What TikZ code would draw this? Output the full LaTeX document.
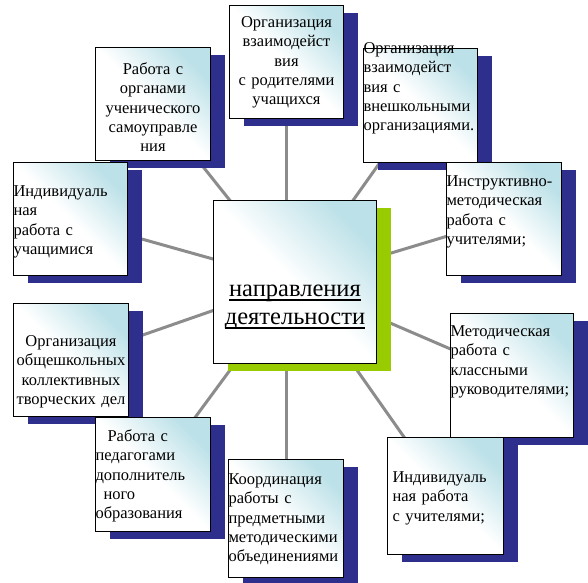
\documentclass[tikz,border=0pt]{standalone}
\usepackage{fontspec}
\setmainfont{Liberation Serif}
\usetikzlibrary{shadows,backgrounds}
\hyphenpenalty=10000
\exhyphenpenalty=10000

\definecolor{cardcyan}{HTML}{BCE1E8}
\definecolor{cardnavy}{HTML}{2E2E8C}
\definecolor{hubgreen}{HTML}{99CC00}
\definecolor{spokegray}{HTML}{8C8C8C}

\newcommand{\hubul}[1]{\leavevmode\setbox0\hbox{#1}\rlap{\rule[-4pt]{\wd0}{1.1pt}}\box0}

\begin{document}
\begin{tikzpicture}[x=1pt, y=-1pt,
    spoke/.style={line width=3pt, spokegray},
    card/.style={draw=black, line width=1pt, anchor=north west,
                 top color=cardcyan, bottom color=white, middle color=white,
                 shading angle=-45, inner sep=0pt,
                 font=\fontsize{16.5}{19.3}\selectfont,
                 drop shadow={shadow xshift=14pt, shadow yshift=-7pt,
                              fill=cardnavy, opacity=1}},
    hubbox/.style={card, align=center, text width=163pt,
                   minimum width=163pt, minimum height=163pt,
                   font=\fontsize{24.5}{28}\selectfont,
                   drop shadow={shadow xshift=14pt, shadow yshift=-7pt,
                                fill=hubgreen, opacity=1}},
]

\useasboundingbox (0,0) rectangle (588,582);

% Hub
\node[hubbox, text height=96pt, text depth=67pt] (hub) at (213,200)
    {\hubul{направления}\\ \hubul{деятельности}};

% Top row
\node[card, align=center, text width=114pt, minimum height=113pt,
      text height=22pt, text depth=91pt] (parents) at (229,5)
    {Организация\\ взаимодейст\\ вия\\ с родителями\\ учащихся};
\node[card, align=center, text width=115pt, minimum height=113pt,
      text height=27pt, text depth=86pt] (selfgov) at (95,47)
    {Работа с\\ органами\\ ученического\\ самоуправле\\ ния};
\node[card, align=left, text width=114pt, minimum height=114pt,
      text height=5pt, text depth=109pt] (outschool) at (363,48)
    {Организация\\ взаимодейст\\ вия с\\ внешкольными\\ организациями.};

% Left and right columns
\node[card, align=left, text width=114pt, minimum height=113pt,
      text height=34pt, text depth=79pt] (pupils) at (13,162)
    {Индивидуаль\\ ная\\ работа с\\ учащимися};
\node[card, align=left, text width=115pt, minimum height=113pt,
      text height=24pt, text depth=89pt] (instr) at (446,162)
    {Инструктивно-\\ методическая\\ работа с\\ учителями;};
\node[card, align=center, text width=115pt, minimum height=113pt,
      text height=43pt, text depth=70pt] (events) at (13,303)
    {Организация\\ общешкольных\\ коллективных\\ творческих дел};
\node[card, align=left, text width=123pt, minimum height=124pt,
      text height=23pt, text depth=101pt] (classteach) at (450,313)
    {Методическая\\ работа с\\ классными\\ руководителями;};

% Bottom row
\node[card, align=left, text width=115pt, minimum height=114pt,
      text height=24pt, text depth=90pt] (extraed) at (95,417)
    {\hspace*{12pt}Работа с\\ педагогами\\ дополнитель\\ \hspace*{8pt}ного\\ образования};
\node[card, align=left, text width=116pt, minimum height=117pt,
      text height=45pt, text depth=72pt] (teachers) at (387,437)
    {\hspace*{5pt}Индивидуаль\\ \hspace*{5pt}ная работа\\ \hspace*{5pt}с учителями;};
\node[card, align=left, text width=115pt, minimum height=118pt,
      text height=25pt, text depth=93pt] (subjects) at (228,459)
    {Координация\\ работы с\\ предметными\\ методическими\\ объединениями};

% Spokes
\begin{pgfonlayer}{background}
\fill[white] (0,0) rectangle (588,582);
\foreach \b in {selfgov, outschool, pupils, instr, events, classteach, extraed, teachers}
    \draw[spoke] (hub.center) -- (\b.center);
\draw[spoke] (parents.center) -- (parents.center |- hub.center);
\draw[spoke] (subjects.center) -- (subjects.center |- hub.center);
\end{pgfonlayer}

\end{tikzpicture}
\end{document}
